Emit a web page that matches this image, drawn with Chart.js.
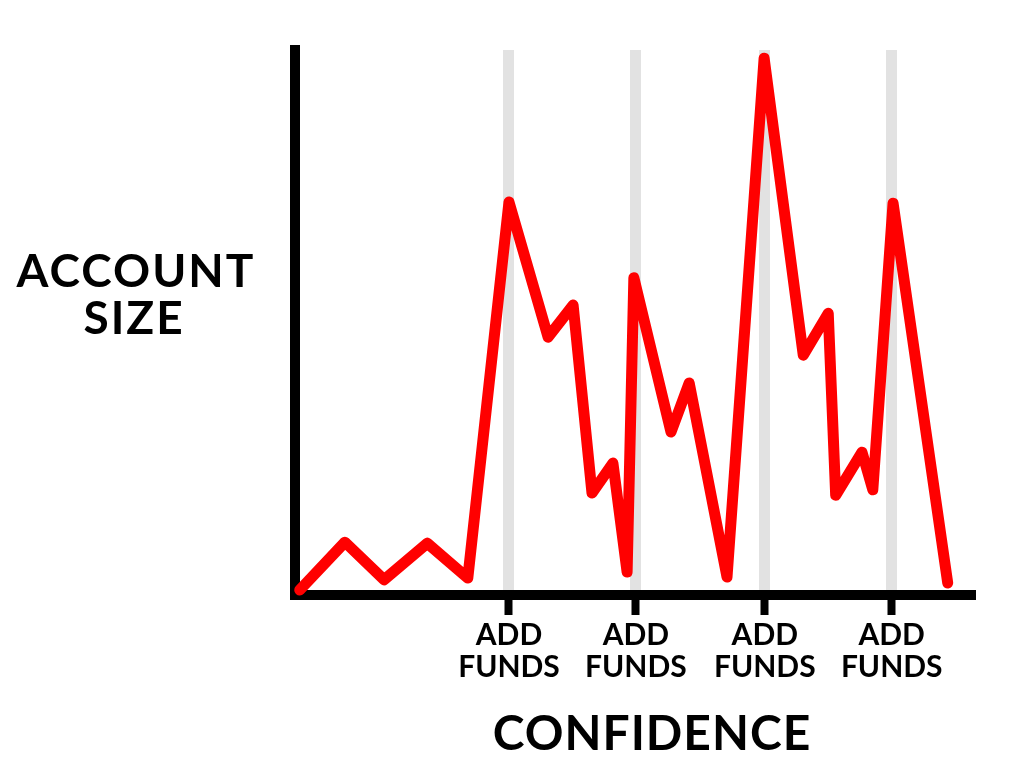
<!DOCTYPE html>
<html>
<head>
<meta charset="utf-8">
<script src="https://cdn.jsdelivr.net/npm/chart.js@4.4.1/dist/chart.umd.min.js"></script>
<style>
  html, body { margin: 0; padding: 0; background: #fff; }
  #wrap { width: 1024px; height: 784px; }
</style>
</head>
<body>
<div id="wrap"><canvas id="grafico"></canvas></div>
<script>
// Dados do gráfico
const confianca = [0.7, 7.4, 13.2, 19.6, 25.6, 31.7, 37.5, 41.2, 44.0, 47.1, 49.2, 50.2,
                   55.7, 58.4, 64.0, 69.5, 75.3, 79.0, 80.1, 84.0, 85.6, 88.6, 96.7];
const tamanhoConta = [0.9, 9.7, 2.8, 9.5, 3.1, 72.1, 47.3, 53.2, 18.7, 24.2, 4.2, 58.2,
                      29.9, 38.9, 3.3, 98.5, 44.0, 51.7, 18.3, 26.2, 19.3, 71.9, 2.2];
const aportes = [31.7, 50.5, 69.6, 88.4];         // posições "ADD FUNDS"
const rotuloAporte = ['ADD', 'FUNDS'];
const tituloY = ['ACCOUNT', 'SIZE'];
const tituloX = 'CONFIDENCE';

const pontos = confianca.map((x, i) => ({ x: x, y: tamanhoConta[i] }));

// Plugin simples para escrever os títulos dos eixos na horizontal
const titulos = {
    id: 'titulos',
    afterDraw(chart) {
        const ctx = chart.ctx;
        ctx.save();
        ctx.fillStyle = '#000';
        ctx.textAlign = 'center';
        ctx.textBaseline = 'alphabetic';
        ctx.font = 'bold 46px Lato';
        if ('letterSpacing' in ctx) ctx.letterSpacing = '2px';
        ctx.fillText(tituloY[0], 136, 287);
        ctx.fillText(tituloY[1], 134, 334);
        ctx.font = 'bold 48px Lato';
        if ('letterSpacing' in ctx) ctx.letterSpacing = '1px';
        ctx.fillText(tituloX, 652, 750);
        ctx.restore();
    }
};

const ctx = document.getElementById('grafico').getContext('2d');
let grafico = new Chart(ctx, {
    type: 'line',
    data: {
        datasets: [{
            data: pontos,
            borderColor: '#ff0000',
            borderWidth: 11,
            borderJoinStyle: 'round',
            borderCapStyle: 'round',
            pointRadius: 0,
            tension: 0,
            clip: false
        }]
    },
    options: {
        responsive: true,
        maintainAspectRatio: false,
        animation: false,
        events: [],
        layout: { padding: { left: 295, top: 50, right: 54, bottom: 0 } },
        plugins: { legend: { display: false }, tooltip: { enabled: false } },
        scales: {
            x: {
                type: 'linear',
                min: 0,
                max: 100,
                afterBuildTicks: (s) => { s.ticks = aportes.map(v => ({ value: v })); },
                afterFit: (s) => { s.height = 784 - 595; },
                ticks: {
                    callback: () => rotuloAporte,
                    color: '#000',
                    font: { family: 'Lato', weight: 'bold', size: 30, lineHeight: 1.07 },
                    padding: 4,
                    maxRotation: 0,
                    autoSkip: false
                },
                grid: {
                    color: '#e2e2e2',
                    lineWidth: 11,
                    tickColor: '#000',
                    tickWidth: 8,
                    tickLength: 20
                },
                border: { color: '#000', width: 10 }
            },
            y: {
                min: 0,
                max: 100,
                afterFit: (s) => { s.width = 0; },
                ticks: { display: false },
                grid: { drawOnChartArea: false, drawTicks: false, color: 'rgba(0,0,0,0)' },
                border: { color: '#000', width: 10 }
            }
        }
    },
    plugins: [titulos]
});
</script>
</body>
</html>
